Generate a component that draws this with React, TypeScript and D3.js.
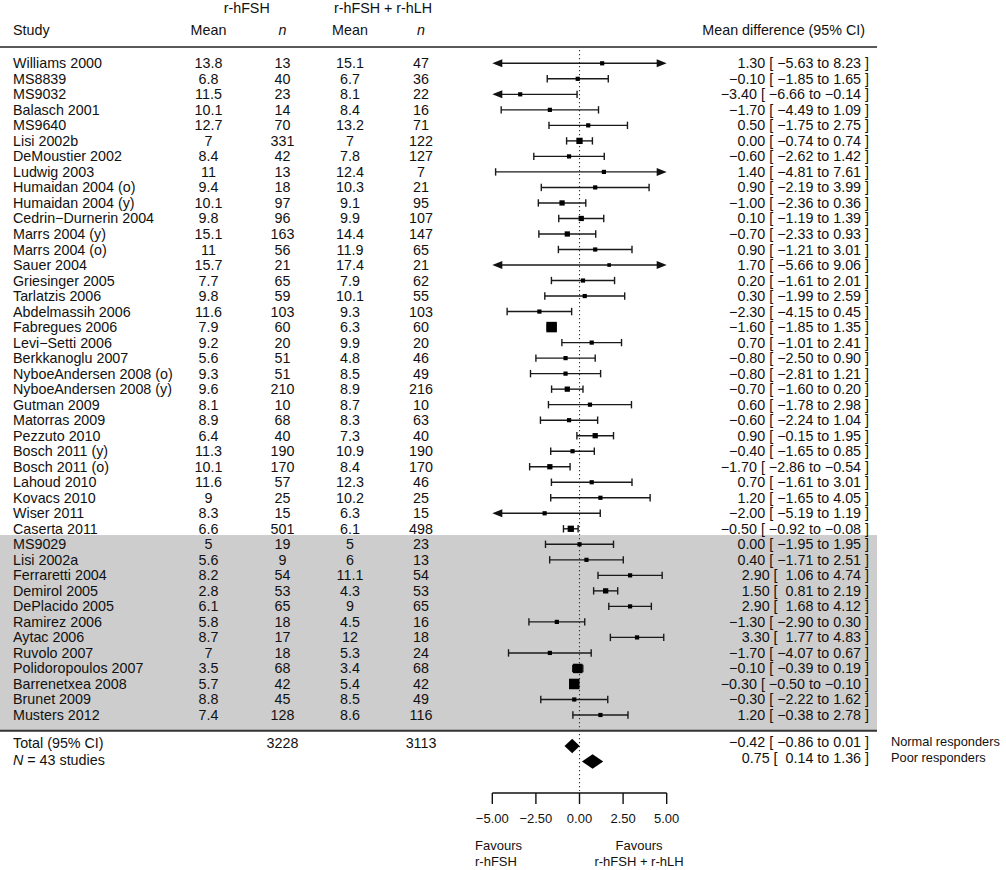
import React from "react";
import * as d3 from "d3";

const studies = [
  "Williams 2000", "MS8839", "MS9032", "Balasch 2001", "MS9640", "Lisi 2002b", "DeMoustier 2002",
  "Ludwig 2003", "Humaidan 2004 (o)", "Humaidan 2004 (y)", "Cedrin\u2212Durnerin 2004", "Marrs 2004 (y)",
  "Marrs 2004 (o)", "Sauer 2004", "Griesinger 2005", "Tarlatzis 2006", "Abdelmassih 2006", "Fabregues 2006",
  "Levi\u2212Setti 2006", "Berkkanoglu 2007", "NyboeAndersen 2008 (o)", "NyboeAndersen 2008 (y)", "Gutman 2009",
  "Matorras 2009", "Pezzuto 2010", "Bosch 2011 (y)", "Bosch 2011 (o)", "Lahoud 2010", "Kovacs 2010",
  "Wiser 2011", "Caserta 2011", "MS9029", "Lisi 2002a", "Ferraretti 2004", "Demirol 2005", "DePlacido 2005",
  "Ramirez 2006", "Aytac 2006", "Ruvolo 2007", "Polidoropoulos 2007", "Barrenetxea 2008", "Brunet 2009",
  "Musters 2012",
];
// group: 0 = normal responders, 1 = poor responders (shaded)
const groups = [
  0, 0, 0, 0, 0, 0, 0, 0, 0, 0, 0, 0, 0, 0, 0, 0, 0, 0, 0, 0, 0, 0, 0, 0, 0, 0, 0, 0, 0, 0, 0,
  1, 1, 1, 1, 1, 1, 1, 1, 1, 1, 1, 1,
];
const meanFSH = [13.8, 6.8, 11.5, 10.1, 12.7, 7, 8.4, 11, 9.4, 10.1, 9.8, 15.1, 11, 15.7, 7.7, 9.8, 11.6, 7.9, 9.2, 5.6, 9.3, 9.6, 8.1, 8.9, 6.4, 11.3, 10.1, 11.6, 9, 8.3, 6.6, 5, 5.6, 8.2, 2.8, 6.1, 5.8, 8.7, 7, 3.5, 5.7, 8.8, 7.4];
const nFSH = [13, 40, 23, 14, 70, 331, 42, 13, 18, 97, 96, 163, 56, 21, 65, 59, 103, 60, 20, 51, 51, 210, 10, 68, 40, 190, 170, 57, 25, 15, 501, 19, 9, 54, 53, 65, 18, 17, 18, 68, 42, 45, 128];
const meanLH = [15.1, 6.7, 8.1, 8.4, 13.2, 7, 7.8, 12.4, 10.3, 9.1, 9.9, 14.4, 11.9, 17.4, 7.9, 10.1, 9.3, 6.3, 9.9, 4.8, 8.5, 8.9, 8.7, 8.3, 7.3, 10.9, 8.4, 12.3, 10.2, 6.3, 6.1, 5, 6, 11.1, 4.3, 9, 4.5, 12, 5.3, 3.4, 5.4, 8.5, 8.6];
const nLH = [47, 36, 22, 16, 71, 122, 127, 7, 21, 95, 107, 147, 65, 21, 62, 55, 103, 60, 20, 46, 49, 216, 10, 63, 40, 190, 170, 46, 25, 15, 498, 23, 13, 54, 53, 65, 16, 18, 24, 68, 42, 49, 116];
const md = [1.3, -0.1, -3.4, -1.7, 0.5, 0, -0.6, 1.4, 0.9, -1.0, 0.1, -0.7, 0.9, 1.7, 0.2, 0.3, -2.3, -1.6, 0.7, -0.8, -0.8, -0.7, 0.6, -0.6, 0.9, -0.4, -1.7, 0.7, 1.2, -2.0, -0.5, 0, 0.4, 2.9, 1.5, 2.9, -1.3, 3.3, -1.7, -0.1, -0.3, -0.3, 1.2];
const ciLow = [-5.63, -1.85, -6.66, -4.49, -1.75, -0.74, -2.62, -4.81, -2.19, -2.36, -1.19, -2.33, -1.21, -5.66, -1.61, -1.99, -4.15, -1.85, -1.01, -2.5, -2.81, -1.6, -1.78, -2.24, -0.15, -1.65, -2.86, -1.61, -1.65, -5.19, -0.92, -1.95, -1.71, 1.06, 0.81, 1.68, -2.9, 1.77, -4.07, -0.39, -0.5, -2.22, -0.38];
const ciHigh = [8.23, 1.65, -0.14, 1.09, 2.75, 0.74, 1.42, 7.61, 3.99, 0.36, 1.39, 0.93, 3.01, 9.06, 2.01, 2.59, -0.45, -1.35, 2.41, 0.9, 1.21, 0.2, 2.98, 1.04, 1.95, 0.85, -0.54, 3.01, 4.05, 1.19, -0.08, 1.95, 2.51, 4.74, 2.19, 4.12, 0.3, 4.83, 0.67, 0.19, -0.1, 1.62, 2.78];
const ciLabels = [
  "1.30 [ \u22125.63 to 8.23 ]", "\u22120.10 [ \u22121.85 to 1.65 ]", "\u22123.40 [ \u22126.66 to \u22120.14 ]",
  "\u22121.70 [ \u22124.49 to 1.09 ]", "0.50 [ \u22121.75 to 2.75 ]", "0.00 [ \u22120.74 to 0.74 ]",
  "\u22120.60 [ \u22122.62 to 1.42 ]", "1.40 [ \u22124.81 to 7.61 ]", "0.90 [ \u22122.19 to 3.99 ]",
  "\u22121.00 [ \u22122.36 to 0.36 ]", "0.10 [ \u22121.19 to 1.39 ]", "\u22120.70 [ \u22122.33 to 0.93 ]",
  "0.90 [ \u22121.21 to 3.01 ]", "1.70 [ \u22125.66 to 9.06 ]", "0.20 [ \u22121.61 to 2.01 ]",
  "0.30 [ \u22121.99 to 2.59 ]", "\u22122.30 [ \u22124.15 to 0.45 ]", "\u22121.60 [ \u22121.85 to 1.35 ]",
  "0.70 [ \u22121.01 to 2.41 ]", "\u22120.80 [ \u22122.50 to 0.90 ]", "\u22120.80 [ \u22122.81 to 1.21 ]",
  "\u22120.70 [ \u22121.60 to 0.20 ]", "0.60 [ \u22121.78 to 2.98 ]", "\u22120.60 [ \u22122.24 to 1.04 ]",
  "0.90 [ \u22120.15 to 1.95 ]", "\u22120.40 [ \u22121.65 to 0.85 ]", "\u22121.70 [ \u22122.86 to \u22120.54 ]",
  "0.70 [ \u22121.61 to 3.01 ]", "1.20 [ \u22121.65 to 4.05 ]", "\u22122.00 [ \u22125.19 to 1.19 ]",
  "\u22120.50 [ \u22120.92 to \u22120.08 ]", "0.00 [ \u22121.95 to 1.95 ]", "0.40 [ \u22121.71 to 2.51 ]",
  "2.90 [  1.06 to 4.74 ]", "1.50 [  0.81 to 2.19 ]", "2.90 [  1.68 to 4.12 ]",
  "\u22121.30 [ \u22122.90 to 0.30 ]", "3.30 [  1.77 to 4.83 ]", "\u22121.70 [ \u22124.07 to 0.67 ]",
  "\u22120.10 [ \u22120.39 to 0.19 ]", "\u22120.30 [ \u22120.50 to \u22120.10 ]", "\u22120.30 [ \u22122.22 to 1.62 ]",
  "1.20 [ \u22120.38 to 2.78 ]",
];
// relative weights (square area)
const weights = [1.6, 1.6, 1.6, 1.6, 1.6, 3.6, 1.6, 1.6, 1.6, 2.5, 2.5, 2.5, 1.6, 1.2, 1.6, 1.6, 1.6, 10, 1.6, 1.6, 1.6, 2.5, 1.6, 1.6, 2.5, 1.6, 2.5, 1.6, 1.6, 1.6, 3.6, 1.6, 1.6, 1.6, 2.5, 1.6, 1.6, 1.6, 1.6, 8.1, 10, 1.6, 1.6];

const totalsLabels = ["Total (95% CI)", "43 studies"];
const totalN = [3228, 3113];
const pooledNames = ["Normal responders", "Poor responders"];
const pooledMd = [-0.42, 0.75];
const pooledLow = [-0.86, 0.14];
const pooledHigh = [0.01, 1.36];
const pooledLabels = ["\u22120.42 [ \u22120.86 to 0.01 ]", "0.75 [  0.14 to 1.36 ]"];
const axisTicks = [-5, -2.5, 0, 2.5, 5];
const favourLeft = ["Favours", "r-hFSH"];
const favourRight = ["Favours", "r-hFSH + r-hLH"];

const FONT = "'Liberation Sans', Arial, Helvetica, sans-serif";
const INK = "#111";
const FS = 14.3;

export default function App() {
  const W = 1006, H = 870;
  const x = d3.scaleLinear().domain([-5, 5]).range([492.3, 666.7]);
  const y = d3.scalePoint<number>().domain(d3.range(studies.length)).range([63.3, 715]);
  const step = y.step();
  const sz = d3.scaleSqrt().domain([0, d3.max(weights) as number]).range([0, 10.5]);
  const fmtTick = d3.format(".2f");

  const colStudy = 13, colM1 = 208.5, colN1 = 282.5, colM2 = 350, colN2 = 421, colCI = 869;
  const ruleRight = 877;
  const headerLineY = 47;
  const firstPoor = groups.indexOf(1);
  const grayTop = (y(firstPoor) as number) - step / 2 - 1.5;
  const grayBottom = (y(studies.length - 1) as number) + step / 2 + 8;
  const totY = [743, 760];
  const diamondY = [746, 761.5];
  const pooledTextY = [742, 757.5];
  const axisY = 793;

  const txt = (props: any, s: React.ReactNode, key?: any) => (
    <text key={key} fontFamily={FONT} fontSize={FS} fill={INK} dy="0.35em" style={{ whiteSpace: "pre" }} {...props}>{s}</text>
  );

  return (
    <svg width={W} height={H} style={{ position: "absolute", left: 0, top: 0, background: "#fff" }}>
      <rect x={0} y={0} width={W} height={H} fill="#fff" />
      {/* shaded poor responders block */}
      <rect x={0} y={grayTop} width={ruleRight} height={grayBottom - grayTop} fill="#cdcdcd" />
      <line x1={0} x2={ruleRight} y1={grayBottom} y2={grayBottom} stroke="#333" strokeWidth={2.2} />
      <line x1={0} x2={ruleRight} y1={headerLineY} y2={headerLineY} stroke="#222" strokeWidth={1.6} />

      {/* headers */}
      {txt({ x: 246.7, y: 7.5, textAnchor: "middle" }, "r-hFSH")}
      {txt({ x: 383, y: 7.5, textAnchor: "middle" }, "r-hFSH + r-hLH")}
      {txt({ x: colStudy, y: 30 }, "Study")}
      {txt({ x: colM1, y: 30, textAnchor: "middle" }, "Mean")}
      {txt({ x: colN1, y: 30, textAnchor: "middle", fontStyle: "italic" }, "n")}
      {txt({ x: colM2, y: 30, textAnchor: "middle" }, "Mean")}
      {txt({ x: colN2, y: 30, textAnchor: "middle", fontStyle: "italic" }, "n")}
      {txt({ x: 865, y: 30, textAnchor: "end" }, "Mean difference (95% CI)")}

      {/* zero line */}
      <line x1={x(0)} x2={x(0)} y1={headerLineY + 3} y2={axisY - 2} stroke="#333" strokeWidth={1.1} strokeDasharray="1.2,2.8" />

      {studies.map((s, i) => {
        const cy = y(i) as number;
        const lo = Math.max(ciLow[i], -5), hi = Math.min(ciHigh[i], 5);
        const arrowL = ciLow[i] < -5, arrowR = ciHigh[i] > 5;
        const side = sz(weights[i]);
        return (
          <g key={s}>
            {txt({ x: colStudy, y: cy }, s)}
            {txt({ x: colM1, y: cy, textAnchor: "middle" }, String(meanFSH[i]))}
            {txt({ x: colN1, y: cy, textAnchor: "middle" }, String(nFSH[i]))}
            {txt({ x: colM2, y: cy, textAnchor: "middle" }, String(meanLH[i]))}
            {txt({ x: colN2, y: cy, textAnchor: "middle" }, String(nLH[i]))}
            {txt({ x: colCI, y: cy, textAnchor: "end" }, ciLabels[i])}
            <line x1={x(lo) + (arrowL ? 6 : 0)} x2={x(hi) - (arrowR ? 6 : 0)} y1={cy} y2={cy} stroke="#1a1a1a" strokeWidth={1.4} />
            {arrowL ? (
              <polygon points={`${x(-5)},${cy} ${x(-5) + 10},${cy - 4} ${x(-5) + 10},${cy + 4}`} fill="#111" />
            ) : (
              <line x1={x(lo)} x2={x(lo)} y1={cy - 3.7} y2={cy + 3.7} stroke="#1a1a1a" strokeWidth={1.4} />
            )}
            {arrowR ? (
              <polygon points={`${x(5)},${cy} ${x(5) - 10},${cy - 4} ${x(5) - 10},${cy + 4}`} fill="#111" />
            ) : (
              <line x1={x(hi)} x2={x(hi)} y1={cy - 3.7} y2={cy + 3.7} stroke="#1a1a1a" strokeWidth={1.4} />
            )}
            <rect x={x(md[i]) - side / 2} y={cy - side / 2} width={side} height={side} fill="#000" />
          </g>
        );
      })}

      {/* totals */}
      {txt({ x: colStudy, y: totY[0] }, totalsLabels[0])}
      <text x={colStudy} y={totY[1]} dy="0.35em" fontFamily={FONT} fontSize={FS} fill={INK} style={{ whiteSpace: "pre" }}>
        <tspan fontStyle="italic">N</tspan>{" = " + totalsLabels[1]}
      </text>
      {txt({ x: colN1, y: totY[0], textAnchor: "middle" }, String(totalN[0]))}
      {txt({ x: colN2, y: totY[0], textAnchor: "middle" }, String(totalN[1]))}
      {pooledMd.map((m, k) => {
        const cy = diamondY[k];
        const h = 7.3;
        return (
          <g key={pooledNames[k]}>
            <polygon points={`${x(pooledLow[k])},${cy} ${x(m)},${cy - h} ${x(pooledHigh[k])},${cy} ${x(m)},${cy + h}`} fill="#000" />
            {txt({ x: colCI, y: pooledTextY[k], textAnchor: "end" }, pooledLabels[k])}
            {txt({ x: 891, y: pooledTextY[k], fontSize: 12.8 }, pooledNames[k])}
          </g>
        );
      })}

      {/* axis */}
      <line x1={x(-5)} x2={x(5)} y1={axisY} y2={axisY} stroke="#111" strokeWidth={1.4} />
      {axisTicks.map((t) => (
        <g key={t}>
          <line x1={x(t)} x2={x(t)} y1={axisY} y2={axisY + 11} stroke="#111" strokeWidth={1.4} />
          {txt({ x: x(t), y: axisY + 25, textAnchor: "middle", fontSize: 13 }, fmtTick(t))}
        </g>
      ))}
      {favourLeft.map((s, k) => txt({ x: 475, y: 845 + k * 16, fontSize: 13 }, s, "fl" + k))}
      {favourRight.map((s, k) => txt({ x: 639, y: 845 + k * 16, fontSize: 13, textAnchor: "middle" }, s, "fr" + k))}
    </svg>
  );
}
